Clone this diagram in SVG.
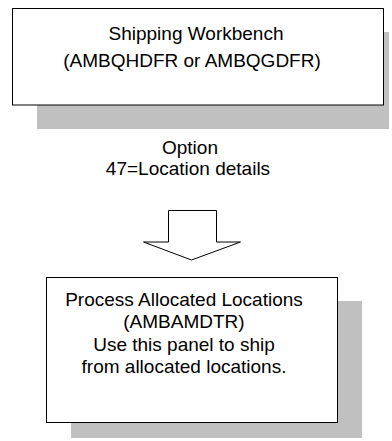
<svg xmlns="http://www.w3.org/2000/svg" width="392" height="441" viewBox="0 0 392 441">
<style>
.shadow{fill:#c0c0c0;stroke:none}
.box{fill:#ffffff;stroke:#000000;stroke-width:1}
.t{font-family:"Liberation Sans",Arial,sans-serif;font-size:19px;fill:#000000;text-anchor:middle}
</style>
<rect width="392" height="441" fill="#ffffff"/>
<g id="node-shipping-workbench">
<rect class="shadow" x="37" y="32" width="352" height="97"/>
<rect class="box" x="12.5" y="8.5" width="371" height="96.5"/>
<text class="t" x="196" y="40">Shipping Workbench</text>
<text class="t" x="192" y="67">(AMBQHDFR or AMBQGDFR)</text>
</g>
<g id="connectors">
<text class="t" x="190" y="154">Option</text>
<text class="t" x="188" y="175">47=Location details</text>
<polygon points="168.5,210.5 216.5,210.5 216.5,242 240.5,242 191.5,260 143.5,242 168.5,242" fill="#ffffff" stroke="#000000" stroke-width="1"/>
</g>
<g id="node-process-allocated-locations">
<rect class="shadow" x="71" y="301" width="291" height="137"/>
<rect class="box" x="46.5" y="277.5" width="291" height="145"/>
<text class="t" x="184" y="306">Process Allocated Locations</text>
<text class="t" x="184" y="328">(AMBAMDTR)</text>
<text class="t" x="184" y="351">Use this panel to ship</text>
<text class="t" x="184" y="373">from allocated locations.</text>
</g>
</svg>
